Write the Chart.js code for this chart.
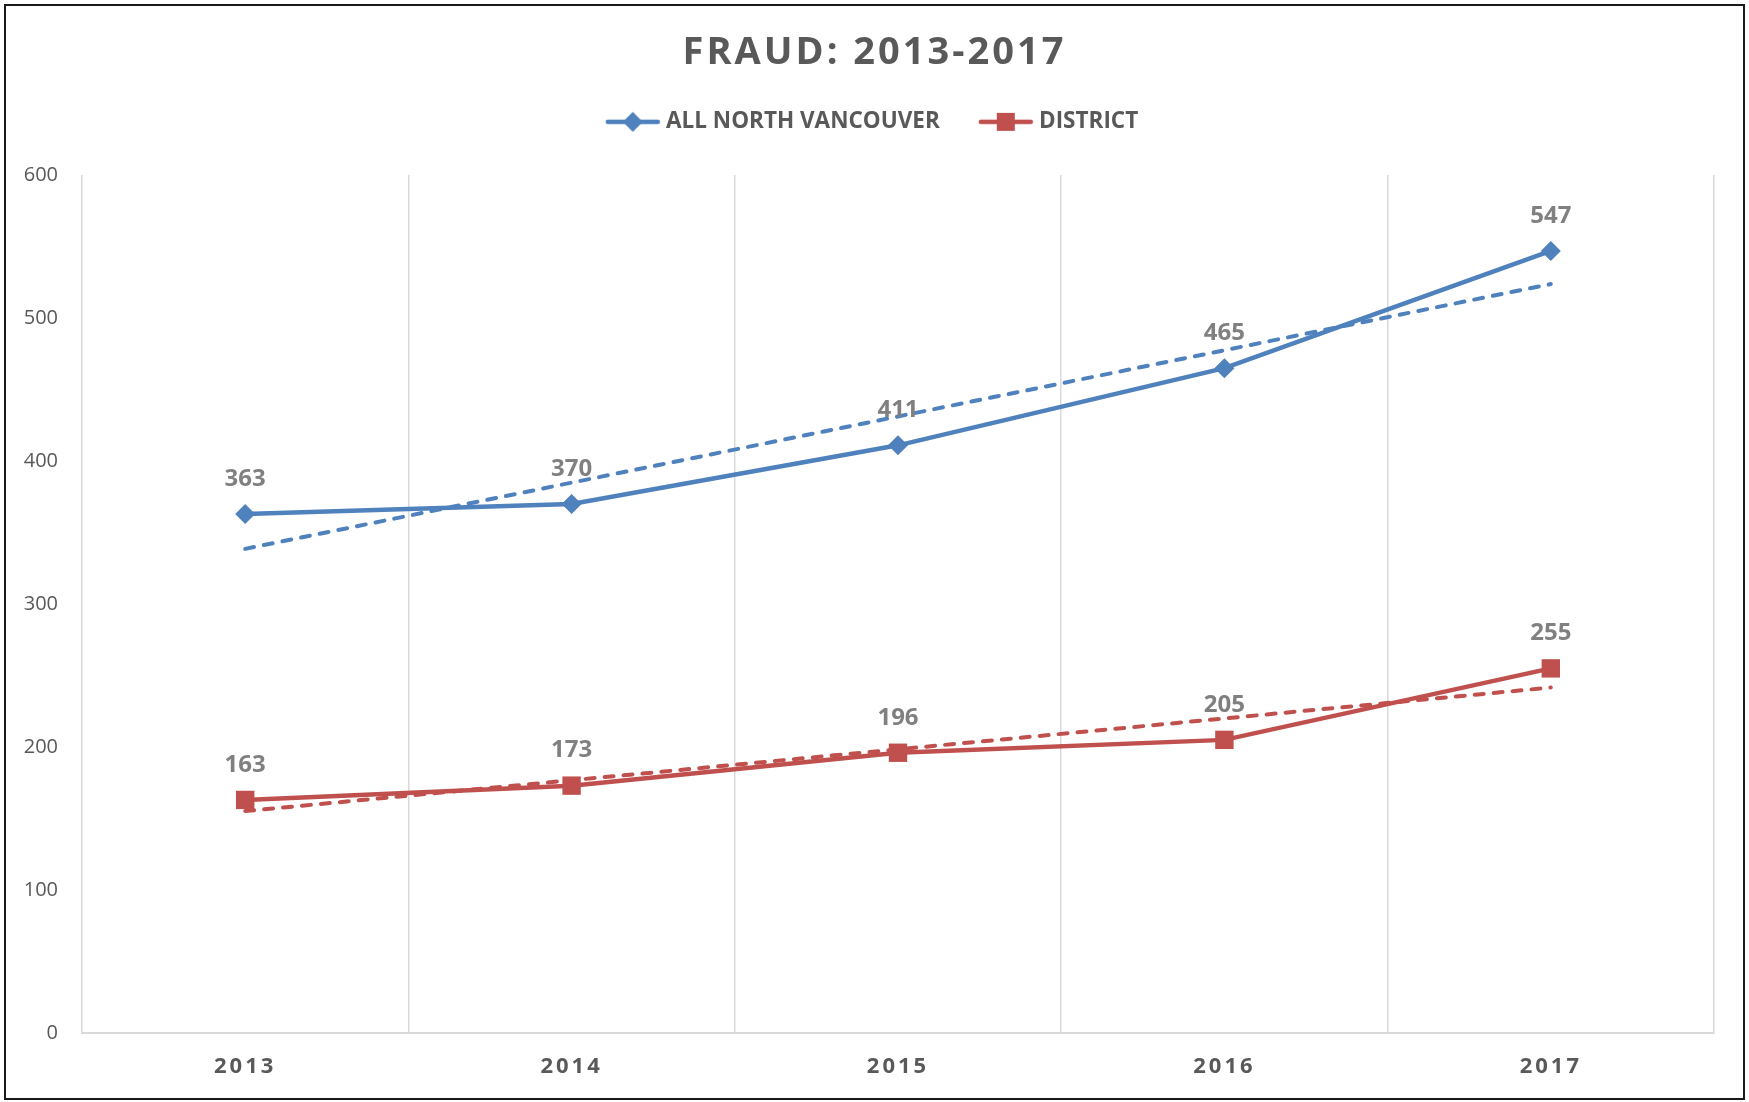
<!DOCTYPE html>
<html>
<head>
<meta charset="utf-8">
<script src="https://cdn.jsdelivr.net/npm/chart.js@4.4.1/dist/chart.umd.min.js"></script>
<style>
  html, body { margin: 0; padding: 0; background: #fff; }
  #wrap { position: relative; width: 1749px; height: 1102px; }
  #frame { position: absolute; left: 4px; top: 4px; width: 1741px; height: 1096px;
           border: 2px solid #1a1a1a; box-sizing: border-box; pointer-events: none; }
  canvas { position: absolute; left: 0; top: 0; }
</style>
</head>
<body>
<div id="wrap">
  <canvas id="chart" width="1749" height="1102"></canvas>
  <div id="frame"></div>
</div>
<script>
// Data
const years = ['2013', '2014', '2015', '2016', '2017'];
const allNorthVan = [363, 370, 411, 465, 547];
const district = [163, 173, 196, 205, 255];
const yTicks = [0, 100, 200, 300, 400, 500, 600];

const BLUE = '#4F81BD';
const RED = '#C0504D';
const FONT = '"Open Sans", "Liberation Sans", sans-serif';

// Least-squares linear trendline, like the spreadsheet one
function linearTrend(values) {
    const n = values.length;
    const mx = (n - 1) / 2;
    const my = values.reduce((a, b) => a + b, 0) / n;
    let sxy = 0, sxx = 0;
    values.forEach((v, i) => { sxy += (i - mx) * (v - my); sxx += (i - mx) * (i - mx); });
    const slope = sxy / sxx;
    return values.map((_, i) => my + slope * (i - mx));
}

// Legend symbol: line with marker in the middle
function legendSymbol(color, shape) {
    const c = document.createElement('canvas');
    c.width = 56; c.height = 24;
    const g = c.getContext('2d');
    g.strokeStyle = color;
    g.fillStyle = color;
    g.lineWidth = 4.5;
    g.lineCap = 'round';
    g.beginPath(); g.moveTo(3, 12); g.lineTo(53, 12); g.stroke();
    g.beginPath();
    if (shape === 'diamond') {
        g.moveTo(28, 2); g.lineTo(38, 12); g.lineTo(28, 22); g.lineTo(18, 12);
    } else {
        g.rect(19, 3, 18, 18);
    }
    g.closePath(); g.fill();
    return c;
}
const symbols = [legendSymbol(BLUE, 'diamond'), legendSymbol(RED, 'square')];

// Value labels above each point of the two main series
const valueLabels = {
    id: 'valueLabels',
    afterDatasetsDraw(chart) {
        const ctx = chart.ctx;
        ctx.save();
        ctx.font = 'bold 24px ' + FONT;
        ctx.fillStyle = '#808080';
        ctx.textAlign = 'center';
        ctx.textBaseline = 'middle';
        [0, 1].forEach(i => {
            chart.getDatasetMeta(i).data.forEach((pt, j) => {
                ctx.fillText(chart.data.datasets[i].data[j], pt.x, pt.y - 35);
            });
        });
        ctx.restore();
    }
};

// Letter spacing for the title and the category labels
function withSpacing(obj, fn, sp) {
    if (!obj || obj['_sp_' + fn]) return;
    const orig = obj[fn];
    obj[fn] = function (...args) {
        this.ctx.save();
        this.ctx.letterSpacing = sp;
        orig.apply(this, args);
        this.ctx.restore();
    };
    obj['_sp_' + fn] = true;
}
const spacing = {
    id: 'spacing',
    afterLayout(chart) {
        withSpacing(chart.titleBlock, 'draw', '3px');
        withSpacing(chart.scales.x, 'drawLabels', '3px');
    }
};

// Extra room under the legend
const legendGap = {
    id: 'legendGap',
    beforeInit(chart) {
        const fit = chart.legend.fit;
        chart.legend.fit = function () { fit.call(this); this.height += 32; };
    }
};

const ctx = document.getElementById('chart').getContext('2d');
new Chart(ctx, {
    type: 'line',
    data: {
        labels: years,
        datasets: [
            {
                label: 'ALL NORTH VANCOUVER',
                data: allNorthVan,
                borderColor: BLUE,
                backgroundColor: BLUE,
                borderWidth: 4.5,
                pointStyle: 'rectRot',
                pointRadius: 10,
                pointBorderWidth: 0,
                order: 2
            },
            {
                label: 'DISTRICT',
                data: district,
                borderColor: RED,
                backgroundColor: RED,
                borderWidth: 4.5,
                pointStyle: 'rect',
                pointRadius: 13,
                pointBorderWidth: 0,
                order: 2
            },
            {
                label: 'trend1',
                data: linearTrend(allNorthVan),
                borderColor: BLUE,
                borderWidth: 4,
                borderDash: [9, 10],
                borderCapStyle: 'round',
                pointRadius: 0,
                order: 1
            },
            {
                label: 'trend2',
                data: linearTrend(district),
                borderColor: RED,
                borderWidth: 4,
                borderDash: [9, 10],
                borderCapStyle: 'round',
                pointRadius: 0,
                order: 1
            }
        ]
    },
    options: {
        responsive: false,
        animation: false,
        layout: { padding: 0 },
        plugins: {
            title: {
                display: true,
                text: 'FRAUD: 2013-2017',
                color: '#595959',
                font: { family: FONT, size: 38, weight: 'bold', lineHeight: 0.7 },
                padding: { top: 40, bottom: 0 }
            },
            legend: {
                display: true,
                labels: {
                    usePointStyle: true,
                    pointStyleWidth: 44,
                    padding: 44,
                    color: '#595959',
                    font: { family: FONT, size: 22.5, weight: 'bold' },
                    filter: item => item.datasetIndex < 2,
                    generateLabels(chart) {
                        return chart.data.datasets.map((ds, i) => ({
                            text: ds.label,
                            datasetIndex: i,
                            pointStyle: symbols[i] || 'line',
                            fillStyle: ds.borderColor,
                            strokeStyle: ds.borderColor,
                            lineWidth: 0,
                            fontColor: '#595959'
                        }));
                    }
                }
            },
            tooltip: { enabled: false }
        },
        scales: {
            x: {
                offset: true,
                grid: { offset: true, color: '#d9d9d9', lineWidth: 1.5, drawTicks: false },
                border: { color: '#d9d9d9', width: 2 },
                ticks: { color: '#595959', padding: 21, font: { family: FONT, size: 22, weight: 'bold' } },
                afterFit(scale) { scale.height = 69; }
            },
            y: {
                min: 0,
                max: 600,
                grid: { display: false, drawTicks: false },
                border: { display: false },
                ticks: { color: '#595959', padding: 24, font: { family: FONT, size: 20 } },
                afterBuildTicks(scale) { scale.ticks = yTicks.map(v => ({ value: v })); },
                afterFit(scale) { scale.width = 82; }
            },
            // empty right margin so the title and legend stay centred on the page
            yRight: {
                position: 'right',
                min: 0,
                max: 600,
                grid: { display: false, drawTicks: false },
                border: { display: false },
                ticks: { display: false },
                afterFit(scale) { scale.width = 35; }
            }
        }
    },
    plugins: [valueLabels, spacing, legendGap]
});
</script>
</body>
</html>
